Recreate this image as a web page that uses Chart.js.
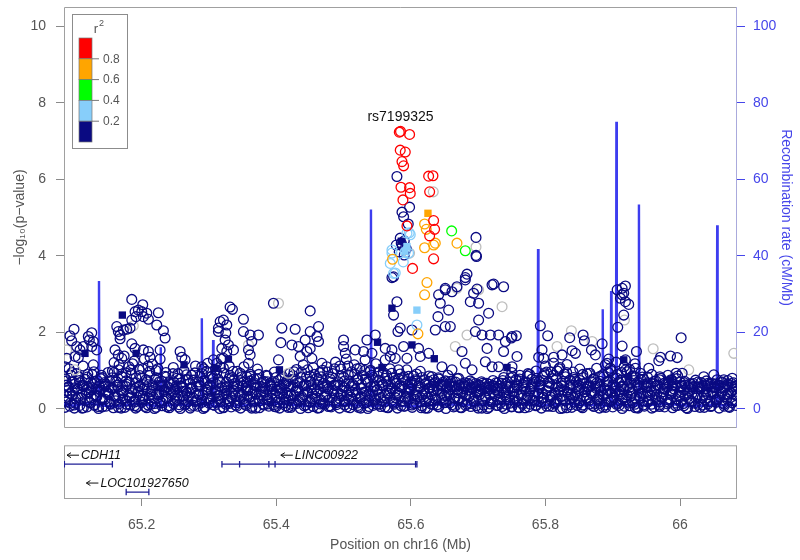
<!DOCTYPE html>
<html><head><meta charset="utf-8">
<script src="https://cdn.jsdelivr.net/npm/chart.js@4.4.1/dist/chart.umd.min.js"></script>
<style>
html,body{margin:0;padding:0;background:#fff;width:800px;height:560px;overflow:hidden}
#wrap{position:relative;width:800px;height:560px}
#c1{position:absolute;left:0;top:0}
#c2{position:absolute;left:0;top:440px}
</style></head><body>
<div id="wrap"><canvas id="c1" width="800" height="440" style="width:800px;height:440px"></canvas><canvas id="c2" width="800" height="120" style="width:800px;height:120px"></canvas></div>
<script>
// ---------------- DATA ----------------
const xRange = [65.0846, 66.0846];
const xTicks = [65.2, 65.4, 65.6, 65.8, 66];
const xTickLabels = ['65.2', '65.4', '65.6', '65.8', '66'];
const pTicks = [0, 2, 4, 6, 8, 10];
const recombTicks = [0, 20, 40, 60, 80, 100];
const leadSnp = ['rs7199325', 65.5846, 7.25];
const legendBreaks = ['0.8', '0.6', '0.4', '0.2'];

// dense band of weakly associated SNPs (position Mb, -log10 p)
const bandLowA = [[65.086,0.04],[65.089,0.33],[65.091,0.57],[65.094,0.15],[65.097,0.46],[65.100,0.02],[65.102,0.27],[65.105,0.53],[65.108,0.09],[65.111,0.38],[65.113,0.61],[65.116,0.21],[65.119,0.05],[65.122,0.44],[65.125,0.29],[65.127,0.56],[65.130,0.11],[65.133,0.35],[65.136,0.01],[65.139,0.49],[65.141,0.24],[65.144,0.59],[65.147,0.07],[65.150,0.41],[65.152,0.18],[65.155,0.54],[65.158,0.03],[65.161,0.31],[65.163,0.62],[65.166,0.13],[65.169,0.47],[65.172,0.26],[65.175,0.04],[65.177,0.58],[65.180,0.36],[65.183,0.10],[65.186,0.51],[65.189,0.22],[65.191,0.02],[65.194,0.43],[65.197,0.60],[65.200,0.17],[65.202,0.34],[65.205,0.06],[65.208,0.55],[65.211,0.28],[65.214,0.12],[65.216,0.48],[65.219,0.01],[65.222,0.39],[65.225,0.61],[65.227,0.20],[65.230,0.08],[65.233,0.45],[65.236,0.30],[65.239,0.57],[65.241,0.03],[65.244,0.37],[65.247,0.14],[65.250,0.52],[65.252,0.25],[65.255,0.05],[65.258,0.60],[65.261,0.33],[65.264,0.10],[65.266,0.46],[65.269,0.19],[65.272,0.02],[65.275,0.55],[65.277,0.28],[65.280,0.41],[65.283,0.07],[65.286,0.59],[65.289,0.23],[65.291,0.36],[65.294,0.04],[65.297,0.50],[65.300,0.15],[65.302,0.62],[65.305,0.31],[65.308,0.09],[65.311,0.44],[65.314,0.26],[65.316,0.01],[65.319,0.56],[65.322,0.38],[65.325,0.12],[65.327,0.48],[65.330,0.21],[65.333,0.05],[65.336,0.58],[65.339,0.34],[65.341,0.16],[65.344,0.43],[65.347,0.02],[65.350,0.61],[65.352,0.27],[65.355,0.09],[65.358,0.51],[65.361,0.32],[65.364,0.06],[65.366,0.45],[65.369,0.20],[65.372,0.57],[65.375,0.03],[65.377,0.37],[65.380,0.13],[65.383,0.53],[65.386,0.25],[65.389,0.07],[65.391,0.60],[65.394,0.40],[65.397,0.11],[65.400,0.47],[65.402,0.18],[65.405,0.02],[65.408,0.55],[65.411,0.30],[65.414,0.08],[65.416,0.42],[65.419,0.22]];
const bandLowB = [[65.422,0.04],[65.425,0.58],[65.427,0.35],[65.430,0.14],[65.433,0.49],[65.436,0.01],[65.439,0.27],[65.441,0.61],[65.444,0.10],[65.447,0.43],[65.450,0.19],[65.452,0.55],[65.455,0.06],[65.458,0.32],[65.461,0.47],[65.464,0.03],[65.466,0.24],[65.469,0.59],[65.472,0.12],[65.475,0.39],[65.477,0.52],[65.480,0.08],[65.483,0.29],[65.486,0.62],[65.489,0.16],[65.491,0.44],[65.494,0.02],[65.497,0.36],[65.500,0.56],[65.502,0.21],[65.505,0.05],[65.508,0.48],[65.511,0.31],[65.514,0.11],[65.516,0.60],[65.519,0.40],[65.522,0.04],[65.525,0.26],[65.527,0.53],[65.530,0.15],[65.533,0.45],[65.536,0.01],[65.539,0.34],[65.541,0.58],[65.544,0.09],[65.547,0.23],[65.550,0.50],[65.552,0.37],[65.555,0.06],[65.558,0.61],[65.561,0.18],[65.564,0.42],[65.566,0.03],[65.569,0.28],[65.572,0.54],[65.575,0.12],[65.577,0.46],[65.580,0.02],[65.583,0.33],[65.586,0.57],[65.589,0.20],[65.591,0.07],[65.594,0.41],[65.597,0.25],[65.600,0.52],[65.602,0.04],[65.605,0.36],[65.608,0.14],[65.611,0.59],[65.614,0.30],[65.616,0.08],[65.619,0.47],[65.622,0.19],[65.625,0.02],[65.627,0.55],[65.630,0.38],[65.633,0.11],[65.636,0.27],[65.639,0.49],[65.641,0.05],[65.644,0.62],[65.647,0.22],[65.650,0.35],[65.652,0.01],[65.655,0.44],[65.658,0.16],[65.661,0.58],[65.664,0.29],[65.666,0.07],[65.669,0.51],[65.672,0.24],[65.675,0.03],[65.677,0.40],[65.680,0.60],[65.683,0.13],[65.686,0.32],[65.689,0.06],[65.691,0.53],[65.694,0.21],[65.697,0.45],[65.700,0.02],[65.702,0.37],[65.705,0.57],[65.708,0.10],[65.711,0.28],[65.714,0.48],[65.716,0.04],[65.719,0.19],[65.722,0.61],[65.725,0.34],[65.727,0.09],[65.730,0.42],[65.733,0.15],[65.736,0.55],[65.739,0.01],[65.741,0.31],[65.744,0.50],[65.747,0.23],[65.750,0.06],[65.752,0.44]];
const bandLowC = [[65.755,0.17],[65.758,0.59],[65.761,0.03],[65.764,0.36],[65.766,0.12],[65.769,0.52],[65.772,0.27],[65.775,0.05],[65.777,0.46],[65.780,0.61],[65.783,0.20],[65.786,0.08],[65.789,0.39],[65.791,0.55],[65.794,0.02],[65.797,0.30],[65.800,0.14],[65.802,0.48],[65.805,0.60],[65.808,0.24],[65.811,0.06],[65.814,0.41],[65.816,0.18],[65.819,0.57],[65.822,0.01],[65.825,0.33],[65.827,0.50],[65.830,0.11],[65.833,0.44],[65.836,0.26],[65.839,0.04],[65.841,0.62],[65.844,0.37],[65.847,0.09],[65.850,0.53],[65.852,0.21],[65.855,0.03],[65.858,0.45],[65.861,0.29],[65.864,0.58],[65.866,0.13],[65.869,0.40],[65.872,0.06],[65.875,0.54],[65.877,0.23],[65.880,0.02],[65.883,0.47],[65.886,0.35],[65.889,0.10],[65.891,0.61],[65.894,0.19],[65.897,0.43],[65.900,0.05],[65.902,0.28],[65.905,0.56],[65.908,0.15],[65.911,0.38],[65.914,0.01],[65.916,0.51],[65.919,0.24],[65.922,0.60],[65.925,0.08],[65.927,0.33],[65.930,0.46],[65.933,0.12],[65.936,0.04],[65.939,0.55],[65.941,0.27],[65.944,0.41],[65.947,0.07],[65.950,0.59],[65.952,0.18],[65.955,0.36],[65.958,0.02],[65.961,0.49],[65.964,0.22],[65.966,0.62],[65.969,0.10],[65.972,0.31],[65.975,0.45],[65.977,0.05],[65.980,0.56],[65.983,0.17],[65.986,0.39],[65.989,0.03],[65.991,0.52],[65.994,0.26],[65.997,0.09],[66.000,0.43],[66.002,0.60],[66.005,0.14],[66.008,0.34],[66.011,0.01],[66.014,0.48],[66.016,0.21],[66.019,0.57],[66.022,0.06],[66.025,0.37],[66.027,0.12],[66.030,0.53],[66.033,0.29],[66.036,0.04],[66.039,0.44],[66.041,0.61],[66.044,0.19],[66.047,0.08],[66.050,0.40],[66.052,0.55],[66.055,0.25],[66.058,0.02],[66.061,0.47],[66.064,0.15],[66.066,0.32],[66.069,0.58],[66.072,0.06],[66.075,0.42],[66.077,0.22],[66.080,0.51],[66.083,0.09]];
const bandLowD = [[65.0875,0.18],[65.0935,0.40],[65.0995,0.10],[65.1055,0.30],[65.1115,0.02],[65.1175,0.49],[65.1235,0.16],[65.1295,0.37],[65.1355,0.06],[65.1415,0.26],[65.1475,0.45],[65.1535,0.12],[65.1595,0.34],[65.1655,0.04],[65.1715,0.42],[65.1775,0.20],[65.1835,0.31],[65.1895,0.08],[65.1955,0.47],[65.2015,0.25],[65.2075,0.03],[65.2135,0.38],[65.2195,0.14],[65.2255,0.44],[65.2315,0.22],[65.2375,0.05],[65.2435,0.48],[65.2495,0.33],[65.2555,0.11],[65.2615,0.27],[65.2675,0.41],[65.2735,0.07],[65.2795,0.19],[65.2855,0.36],[65.2915,0.01],[65.2975,0.29],[65.3035,0.46],[65.3095,0.17],[65.3155,0.35],[65.3215,0.04],[65.3275,0.26],[65.3335,0.43],[65.3395,0.10],[65.3455,0.32],[65.3515,0.18],[65.3575,0.47],[65.3635,0.02],[65.3695,0.38],[65.3755,0.21],[65.3815,0.44],[65.3875,0.13],[65.3935,0.28],[65.3995,0.05],[65.4055,0.40],[65.4115,0.16],[65.4175,0.33],[65.4235,0.09],[65.4295,0.45],[65.4355,0.23],[65.4415,0.36],[65.4475,0.03],[65.4535,0.27],[65.4595,0.42],[65.4655,0.13],[65.4715,0.31],[65.4775,0.06],[65.4835,0.48],[65.4895,0.20],[65.4955,0.39],[65.5015,0.10],[65.5075,0.25],[65.5135,0.44],[65.5195,0.15],[65.5255,0.02],[65.5315,0.35],[65.5375,0.22],[65.5435,0.46],[65.5495,0.12],[65.5555,0.30],[65.5615,0.05],[65.5675,0.41],[65.5735,0.18],[65.5795,0.37],[65.5855,0.08],[65.5915,0.27],[65.5975,0.45],[65.6035,0.14],[65.6095,0.32],[65.6155,0.03],[65.6215,0.40],[65.6275,0.21],[65.6335,0.48],[65.6395,0.11],[65.6455,0.29],[65.6515,0.17],[65.6575,0.38],[65.6635,0.05],[65.6695,0.26],[65.6755,0.44],[65.6815,0.09],[65.6875,0.34],[65.6935,0.19],[65.6995,0.47],[65.7055,0.02],[65.7115,0.30],[65.7175,0.13],[65.7235,0.39],[65.7295,0.24],[65.7355,0.06],[65.7415,0.42],[65.7475,0.15],[65.7535,0.33],[65.7595,0.04],[65.7655,0.28],[65.7715,0.46],[65.7775,0.12],[65.7835,0.35],[65.7895,0.20],[65.7955,0.41],[65.8015,0.07],[65.8075,0.31],[65.8135,0.16],[65.8195,0.44],[65.8255,0.25],[65.8315,0.03],[65.8375,0.37],[65.8435,0.18],[65.8495,0.48],[65.8555,0.10],[65.8615,0.27],[65.8675,0.43],[65.8735,0.14],[65.8795,0.32],[65.8855,0.05],[65.8915,0.39],[65.8975,0.22],[65.9035,0.46],[65.9095,0.09],[65.9155,0.29],[65.9215,0.17],[65.9275,0.40],[65.9335,0.03],[65.9395,0.34],[65.9455,0.21],[65.9515,0.45],[65.9575,0.12],[65.9635,0.30],[65.9695,0.06],[65.9755,0.38],[65.9815,0.24],[65.9875,0.47],[65.9935,0.15],[65.9995,0.33],[66.0055,0.08],[66.0115,0.41],[66.0175,0.19],[66.0235,0.28],[66.0295,0.04],[66.0355,0.36],[66.0415,0.13],[66.0475,0.44],[66.0535,0.23],[66.0595,0.31],[66.0655,0.07],[66.0715,0.39],[66.0775,0.16],[66.0835,0.35]];
const bandLowE = [[65.0855,0.22],[65.0895,0.48],[65.0935,0.07],[65.0975,0.36],[65.1015,0.15],[65.1055,0.52],[65.1095,0.28],[65.1135,0.03],[65.1175,0.41],[65.1215,0.19],[65.1255,0.50],[65.1295,0.09],[65.1335,0.32],[65.1375,0.44],[65.1415,0.05],[65.1455,0.25],[65.1495,0.38],[65.1535,0.14],[65.1575,0.53],[65.1615,0.21],[65.1655,0.35],[65.1695,0.02],[65.1735,0.47],[65.1775,0.12],[65.1815,0.29],[65.1855,0.42],[65.1895,0.18],[65.1935,0.06],[65.1975,0.33],[65.2015,0.51],[65.2055,0.24],[65.2095,0.10],[65.2135,0.45],[65.2175,0.30],[65.2215,0.04],[65.2255,0.37],[65.2295,0.16],[65.2335,0.49],[65.2375,0.27],[65.2415,0.08],[65.2455,0.40],[65.2495,0.20],[65.2535,0.34],[65.2575,0.01],[65.2615,0.46],[65.2655,0.13],[65.2695,0.31],[65.2735,0.52],[65.2775,0.09],[65.2815,0.23],[65.2855,0.39],[65.2895,0.17],[65.2935,0.05],[65.2975,0.43],[65.3015,0.26],[65.3055,0.11],[65.3095,0.50],[65.3135,0.35],[65.3175,0.19],[65.3215,0.03],[65.3255,0.41],[65.3295,0.14],[65.3335,0.29],[65.3375,0.47],[65.3415,0.07],[65.3455,0.22],[65.3495,0.38],[65.3535,0.12],[65.3575,0.33],[65.3615,0.49],[65.3655,0.18],[65.3695,0.02],[65.3735,0.27],[65.3775,0.44],[65.3815,0.10],[65.3855,0.36],[65.3895,0.21],[65.3935,0.51],[65.3975,0.06],[65.4015,0.30],[65.4055,0.15],[65.4095,0.42],[65.4135,0.25],[65.4175,0.04],[65.4215,0.37],[65.4255,0.13],[65.4295,0.48],[65.4335,0.20],[65.4375,0.32],[65.4415,0.08],[65.4455,0.45],[65.4495,0.17],[65.4535,0.39],[65.4575,0.26],[65.4615,0.02],[65.4655,0.52],[65.4695,0.14],[65.4735,0.34],[65.4775,0.23],[65.4815,0.05],[65.4855,0.40],[65.4895,0.11],[65.4935,0.28],[65.4975,0.47],[65.5015,0.19],[65.5055,0.36],[65.5095,0.03],[65.5135,0.24],[65.5175,0.50],[65.5215,0.09],[65.5255,0.31],[65.5295,0.43],[65.5335,0.16],[65.5375,0.06],[65.5415,0.38],[65.5455,0.27],[65.5495,0.49],[65.5535,0.12],[65.5575,0.21],[65.5615,0.35],[65.5655,0.04],[65.5695,0.46],[65.5735,0.15],[65.5775,0.29],[65.5815,0.41],[65.5855,0.20],[65.5895,0.07],[65.5935,0.33],[65.5975,0.52],[65.6015,0.10],[65.6055,0.25],[65.6095,0.44],[65.6135,0.18],[65.6175,0.37],[65.6215,0.02],[65.6255,0.30],[65.6295,0.13],[65.6335,0.48],[65.6375,0.23],[65.6415,0.06],[65.6455,0.40],[65.6495,0.16],[65.6535,0.34],[65.6575,0.51],[65.6615,0.11],[65.6655,0.27],[65.6695,0.42],[65.6735,0.04],[65.6775,0.19],[65.6815,0.36],[65.6855,0.49],[65.6895,0.14],[65.6935,0.28],[65.6975,0.08],[65.7015,0.45],[65.7055,0.22],[65.7095,0.33],[65.7135,0.01],[65.7175,0.39],[65.7215,0.17],[65.7255,0.50],[65.7295,0.09],[65.7335,0.26],[65.7375,0.43],[65.7415,0.12],[65.7455,0.31],[65.7495,0.05],[65.7535,0.47],[65.7575,0.20],[65.7615,0.38],[65.7655,0.15],[65.7695,0.03],[65.7735,0.32],[65.7775,0.52],[65.7815,0.24],[65.7855,0.10],[65.7895,0.41],[65.7935,0.18],[65.7975,0.29],[65.8015,0.46],[65.8055,0.07],[65.8095,0.35],[65.8135,0.13],[65.8175,0.26],[65.8215,0.49],[65.8255,0.02],[65.8295,0.21],[65.8335,0.39],[65.8375,0.11],[65.8415,0.30],[65.8455,0.44],[65.8495,0.16],[65.8535,0.06],[65.8575,0.34],[65.8615,0.51],[65.8655,0.23],[65.8695,0.09],[65.8735,0.42],[65.8775,0.27],[65.8815,0.14],[65.8855,0.37],[65.8895,0.04],[65.8935,0.48],[65.8975,0.19],[65.9015,0.31],[65.9055,0.12],[65.9095,0.45],[65.9135,0.25],[65.9175,0.07],[65.9215,0.36],[65.9255,0.50],[65.9295,0.16],[65.9335,0.28],[65.9375,0.02],[65.9415,0.41],[65.9455,0.10],[65.9495,0.33],[65.9535,0.22],[65.9575,0.47],[65.9615,0.05],[65.9655,0.38],[65.9695,0.18],[65.9735,0.29],[65.9775,0.51],[65.9815,0.13],[65.9855,0.24],[65.9895,0.43],[65.9935,0.08],[65.9975,0.35],[66.0015,0.20],[66.0055,0.49],[66.0095,0.03],[66.0135,0.27],[66.0175,0.40],[66.0215,0.15],[66.0255,0.32],[66.0295,0.52],[66.0335,0.10],[66.0375,0.23],[66.0415,0.37],[66.0455,0.06],[66.0495,0.45],[66.0535,0.17],[66.0575,0.30],[66.0615,0.42],[66.0655,0.12],[66.0695,0.26],[66.0735,0.04],[66.0775,0.48],[66.0815,0.21],[66.0845,0.34]];
const bandMid = [[65.0885,0.62],[65.0950,0.88],[65.1010,0.55],[65.1075,0.74],[65.1140,0.58],[65.1200,0.91],[65.1265,0.66],[65.1330,0.52],[65.1395,0.79],[65.1460,0.60],[65.1525,0.72],[65.1590,0.95],[65.1650,0.57],[65.1715,0.83],[65.1780,0.64],[65.1840,1.02],[65.1905,0.54],[65.1970,0.87],[65.2030,0.63],[65.2095,1.12],[65.2160,0.56],[65.2220,0.81],[65.2285,0.60],[65.2350,0.85],[65.2410,0.53],[65.2475,0.70],[65.2540,0.92],[65.2600,0.58],[65.2665,0.77],[65.2730,0.55],[65.2790,0.94],[65.2855,0.62],[65.2920,1.05],[65.2980,0.57],[65.3045,0.86],[65.3110,0.64],[65.3170,1.10],[65.3235,0.55],[65.3300,0.80],[65.3360,0.98],[65.3425,0.59],[65.3490,0.84],[65.3550,0.53],[65.3615,0.73],[65.3680,0.61],[65.3740,0.90],[65.3805,0.56],[65.3870,0.71],[65.3930,0.58],[65.3995,0.82],[65.4060,0.54],[65.4120,0.66],[65.4185,0.60],[65.4250,0.87],[65.4310,0.55],[65.4375,0.96],[65.4440,0.63],[65.4500,0.85],[65.4565,0.52],[65.4630,0.76],[65.4690,1.01],[65.4755,0.58],[65.4820,0.83],[65.4880,0.61],[65.4945,1.12],[65.5010,0.56],[65.5070,0.89],[65.5135,0.64],[65.5200,1.05],[65.5260,0.54],[65.5325,0.78],[65.5390,0.97],[65.5450,0.59],[65.5515,0.85],[65.5580,0.62],[65.5640,0.88],[65.5705,0.55],[65.5770,0.74],[65.5830,0.60],[65.5895,0.84],[65.5960,0.56],[65.6020,0.69],[65.6085,0.91],[65.6150,0.57],[65.6210,0.66],[65.6275,0.53],[65.6340,0.76],[65.6400,0.59],[65.6465,0.64],[65.6530,0.55],[65.6590,0.72],[65.6655,0.58],[65.6720,0.62],[65.6780,0.53],[65.6845,0.66],[65.6910,0.56],[65.6970,0.61],[65.7035,0.52],[65.7100,0.64],[65.7160,0.57],[65.7225,0.60],[65.7290,0.54],[65.7350,0.67],[65.7415,0.59],[65.7480,0.81],[65.7540,0.55],[65.7605,0.73],[65.7670,0.61],[65.7730,0.86],[65.7795,0.57],[65.7860,0.70],[65.7920,0.63],[65.7985,0.92],[65.8050,0.56],[65.8110,0.79],[65.8175,0.99],[65.8240,0.60],[65.8300,0.84],[65.8365,0.55],[65.8430,0.77],[65.8490,0.62],[65.8555,0.90],[65.8620,0.57],[65.8680,0.71],[65.8745,0.59],[65.8810,0.85],[65.8870,0.54],[65.8935,0.95],[65.9000,0.62],[65.9060,0.80],[65.9125,0.58],[65.9190,1.02],[65.9250,0.56],[65.9315,0.74],[65.9380,0.61],[65.9440,0.83],[65.9505,0.55],[65.9570,0.67],[65.9630,0.59],[65.9695,0.76],[65.9760,0.53],[65.9820,0.70],[65.9885,0.60],[65.9950,0.79],[66.0010,0.56],[66.0075,0.62],[66.0140,0.54],[66.0200,0.66],[66.0265,0.57],[66.0330,0.60],[66.0390,0.53],[66.0455,0.64],[66.0520,0.58],[66.0580,0.62],[66.0645,0.55],[66.0710,0.65],[66.0770,0.57],[66.0835,0.61]];
const bandMidB = [[65.0865,0.72],[65.0915,0.58],[65.0965,0.95],[65.1015,0.66],[65.1065,0.84],[65.1115,0.61],[65.1165,0.77],[65.1215,0.55],[65.1265,0.90],[65.1315,0.68],[65.1365,0.59],[65.1415,0.82],[65.1465,0.64],[65.1515,0.57],[65.1565,0.99],[65.1615,0.73],[65.1665,1.15],[65.1715,0.62],[65.1765,0.94],[65.1815,0.70],[65.1865,1.18],[65.1915,0.81],[65.1965,0.60],[65.2015,1.05],[65.2065,0.76],[65.2115,0.88],[65.2165,0.63],[65.2215,1.00],[65.2265,0.71],[65.2315,0.58],[65.2365,0.83],[65.2415,0.66],[65.2465,0.92],[65.2515,0.60],[65.2565,0.78],[65.2615,0.56],[65.2665,0.89],[65.2715,0.67],[65.2765,0.75],[65.2815,0.59],[65.2865,0.86],[65.2915,0.73],[65.2965,0.98],[65.3015,0.62],[65.3065,0.80],[65.3115,0.94],[65.3165,0.69],[65.3215,1.07],[65.3265,0.58],[65.3315,0.87],[65.3365,0.74],[65.3415,0.61],[65.3465,0.93],[65.3515,0.70],[65.3565,0.57],[65.3615,0.85],[65.3665,0.64],[65.3715,0.78],[65.3765,0.59],[65.3815,0.72],[65.3865,0.86],[65.3915,0.61],[65.3965,0.68],[65.4015,0.56],[65.4065,0.79],[65.4115,0.63],[65.4165,0.74],[65.4215,0.58],[65.4265,0.97],[65.4315,0.68],[65.4365,0.82],[65.4415,0.60],[65.4465,1.02],[65.4515,0.71],[65.4565,0.90],[65.4615,0.63],[65.4665,0.84],[65.4715,0.57],[65.4765,0.96],[65.4815,0.70],[65.4865,1.05],[65.4915,0.62],[65.4965,0.86],[65.5015,0.73],[65.5065,1.12],[65.5115,0.60],[65.5165,0.91],[65.5215,0.77],[65.5265,0.64],[65.5315,1.00],[65.5365,0.72],[65.5415,0.88],[65.5465,0.58],[65.5515,0.96],[65.5565,0.69],[65.5615,0.80],[65.5665,0.61],[65.5715,0.93],[65.5765,0.66],[65.5815,0.79],[65.5865,0.57],[65.5915,0.71],[65.5965,0.85],[65.6015,0.63],[65.6065,0.76],[65.6115,0.59],[65.6165,0.82],[65.6215,0.64],[65.6265,0.72],[65.6315,0.56],[65.6365,0.69],[65.6415,0.78],[65.6465,0.60],[65.6515,0.73],[65.6565,0.65],[65.6615,0.57],[65.6665,0.70],[65.6715,0.61],[65.6765,0.66],[65.6815,0.58],[65.6865,0.63],[65.6915,0.69],[65.6965,0.55],[65.7015,0.62],[65.7065,0.67],[65.7115,0.57],[65.7165,0.64],[65.7215,0.56],[65.7265,0.68],[65.7315,0.60],[65.7365,0.74],[65.7415,0.66],[65.7465,0.58],[65.7515,0.83],[65.7565,0.63],[65.7615,0.78],[65.7665,0.57],[65.7715,0.70],[65.7765,0.90],[65.7815,0.65],[65.7865,0.80],[65.7915,0.59],[65.7965,0.74],[65.8015,0.96],[65.8065,0.67],[65.8115,0.88],[65.8165,0.61],[65.8215,1.08],[65.8265,0.72],[65.8315,0.95],[65.8365,0.63],[65.8415,0.82],[65.8465,0.58],[65.8515,0.74],[65.8565,0.66],[65.8615,0.92],[65.8665,0.60],[65.8715,0.79],[65.8765,0.68],[65.8815,0.57],[65.8865,0.84],[65.8915,0.71],[65.8965,1.06],[65.9015,0.62],[65.9065,0.90],[65.9115,0.75],[65.9165,0.59],[65.9215,0.97],[65.9265,0.68],[65.9315,0.86],[65.9365,0.61],[65.9415,0.77],[65.9465,0.64],[65.9515,0.83],[65.9565,0.58],[65.9615,0.72],[65.9665,0.62],[65.9715,0.80],[65.9765,0.66],[65.9815,0.57],[65.9865,0.76],[65.9915,0.63],[65.9965,0.86],[66.0015,0.60],[66.0065,0.68],[66.0115,0.57],[66.0165,0.64],[66.0215,0.59],[66.0265,0.70],[66.0315,0.56],[66.0365,0.63],[66.0415,0.67],[66.0465,0.58],[66.0515,0.65],[66.0565,0.60],[66.0615,0.69],[66.0665,0.56],[66.0715,0.62],[66.0765,0.66],[66.0815,0.59]];
const bandHigh = [[65.087,0.78],[65.092,1.05],[65.097,0.71],[65.103,0.92],[65.108,0.68],[65.113,1.12],[65.119,0.83],[65.124,0.70],[65.129,0.97],[65.134,0.74],[65.140,0.88],[65.145,0.69],[65.150,0.95],[65.156,0.81],[65.159,1.21],[65.163,0.70],[65.166,1.02],[65.170,0.86],[65.174,1.38],[65.177,0.73],[65.181,1.10],[65.185,0.92],[65.189,1.25],[65.192,0.68],[65.196,1.03],[65.200,0.80],[65.204,1.30],[65.208,0.71],[65.212,0.98],[65.216,1.17],[65.220,0.77],[65.224,1.05],[65.230,0.72],[65.236,0.95],[65.241,0.69],[65.247,1.08],[65.252,0.80],[65.258,0.67],[65.263,1.00],[65.269,0.76],[65.274,0.88],[65.280,1.12],[65.285,0.70],[65.290,0.92],[65.294,0.72],[65.298,1.19],[65.302,0.83],[65.306,0.68],[65.310,1.02],[65.314,0.77],[65.318,1.31],[65.322,0.94],[65.326,0.70],[65.330,1.12],[65.334,0.82],[65.338,0.66],[65.342,0.98],[65.347,0.74],[65.352,1.10],[65.357,0.69],[65.362,0.90],[65.367,0.78],[65.372,1.04],[65.379,0.70],[65.385,0.88],[65.391,0.67],[65.397,0.96],[65.403,0.74],[65.409,0.85],[65.415,0.68],[65.420,0.93],[65.425,0.77],[65.430,1.03],[65.435,0.69],[65.440,1.15],[65.445,0.84],[65.450,0.72],[65.455,1.08],[65.460,0.80],[65.465,0.95],[65.470,0.67],[65.475,1.10],[65.480,0.78],[65.484,0.92],[65.488,1.22],[65.492,0.71],[65.496,1.04],[65.500,0.83],[65.504,1.30],[65.508,0.68],[65.512,0.97],[65.516,1.15],[65.520,0.76],[65.524,1.06],[65.528,0.87],[65.532,1.28],[65.536,0.70],[65.540,1.01],[65.544,0.82],[65.548,1.18],[65.552,0.74],[65.559,0.95],[65.564,0.72],[65.569,1.05],[65.574,0.80],[65.579,0.67],[65.584,0.91],[65.589,0.76],[65.594,1.02],[65.599,0.69],[65.604,0.86],[65.609,0.73],[65.614,0.98],[65.620,0.74],[65.627,0.86],[65.634,0.67],[65.641,0.81],[65.648,0.70],[65.655,0.88],[65.662,0.72],[65.669,0.79],[65.680,0.68],[65.688,0.73],[65.696,0.66],[65.705,0.71],[65.713,0.67],[65.722,0.74],[65.730,0.69],[65.738,0.82],[65.744,0.70],[65.750,0.95],[65.756,0.76],[65.762,0.88],[65.768,0.68],[65.774,0.92],[65.780,0.78],[65.786,0.99],[65.791,0.72],[65.796,0.85],[65.800,1.12],[65.804,0.70],[65.808,0.97],[65.812,1.20],[65.816,0.78],[65.820,1.05],[65.824,0.68],[65.828,0.91],[65.832,1.16],[65.836,0.75],[65.841,0.96],[65.846,0.71],[65.851,1.04],[65.856,0.82],[65.861,0.68],[65.866,0.93],[65.871,0.77],[65.876,1.06],[65.881,0.72],[65.885,0.89],[65.889,1.15],[65.893,0.72],[65.897,1.00],[65.901,0.81],[65.905,1.22],[65.909,0.69],[65.913,0.95],[65.917,1.10],[65.921,0.76],[65.925,1.03],[65.929,0.86],[65.933,1.18],[65.937,0.70],[65.941,0.93],[65.946,0.77],[65.952,0.68],[65.958,0.90],[65.964,0.73],[65.970,0.84],[65.976,0.67],[65.982,0.88],[65.988,0.75],[65.994,0.93],[66.000,0.70],[66.007,0.72],[66.015,0.66],[66.023,0.75],[66.031,0.69],[66.039,0.73],[66.047,0.67],[66.055,0.76],[66.063,0.70],[66.071,0.74],[66.079,0.68]];

// scattered SNPs by LD class
const navyPts = [[65.5793,6.07],[65.5981,5.27],[65.5868,5.14],[65.5892,5.02],[65.5961,4.83],[65.5842,4.46],[65.5902,4.39],[65.5872,4.26],[65.5932,4.18],[65.5827,4.10],[65.5902,4.02],[65.5857,4.33],[65.5783,4.28],[65.6968,4.48],[65.6968,4.01],[65.6975,3.98],[65.6834,3.52],[65.6809,3.43],[65.5743,3.45],[65.5719,3.43],[65.6511,3.15],[65.6685,3.19],[65.6809,3.37],[65.6983,3.13],[65.7230,3.26],[65.7378,3.19],[65.5793,2.80],[65.5743,2.45],[65.5808,2.02],[65.5842,2.11],[65.6016,2.06],[65.6412,2.98],[65.6437,2.76],[65.6511,3.11],[65.6611,3.06],[65.6561,2.58],[65.6403,2.41],[65.6511,2.15],[65.6586,2.15],[65.6363,2.06],[65.6932,3.02],[65.7007,2.76],[65.6883,2.80],[65.7206,3.24],[65.7155,2.50],[65.7007,2.32],[65.6958,2.02],[65.7057,1.93],[65.7181,1.93],[65.7304,1.93],[65.7132,1.58],[65.7107,1.23],[65.6760,1.50],[65.6709,0.80],[65.7404,1.76],[65.7503,1.89],[65.7378,1.50],[65.7304,1.10],[65.7503,1.10],[65.4504,2.56],[65.4281,2.08],[65.4504,2.02],[65.4628,2.15],[65.4604,1.89],[65.4430,1.80],[65.4628,1.76],[65.4504,1.58],[65.4455,1.50],[65.4330,1.63],[65.4529,1.32],[65.4678,1.19],[65.4232,1.67],[65.4355,1.37],[65.5000,1.80],[65.5000,1.63],[65.5025,1.45],[65.5347,1.80],[65.5471,1.93],[65.5297,1.50],[65.5422,1.45],[65.5173,1.54],[65.5619,1.58],[65.5719,1.54],[65.5694,1.37],[65.5619,1.28],[65.5768,1.32],[65.5892,1.63],[65.5942,1.32],[65.5817,1.02],[65.6114,1.58],[65.6140,1.37],[65.6264,1.45],[65.6462,1.10],[65.6314,0.84],[65.6611,1.02],[65.6809,1.19],[65.6909,1.02],[65.7206,1.10],[65.9065,3.11],[65.9139,3.15],[65.9188,3.21],[65.9163,3.02],[65.9114,2.89],[65.9188,2.80],[65.9237,2.73],[65.9139,2.98],[65.9163,2.45],[65.9074,2.13],[65.7924,2.17],[65.8033,1.91],[65.7567,1.91],[65.7493,1.85],[65.8360,1.86],[65.8559,1.93],[65.8578,1.78],[65.7949,1.54],[65.7899,1.35],[65.7973,1.32],[65.8395,1.52],[65.8445,1.45],[65.8247,1.41],[65.8122,1.35],[65.8842,1.70],[65.8683,1.54],[65.8742,1.41],[65.8940,1.30],[65.8916,1.19],[65.9139,1.64],[65.9188,1.28],[65.9352,1.50],[66.0016,1.86],[65.9709,1.35],[65.9684,1.26],[65.9858,1.38],[65.9957,1.34],[65.9337,1.06],[65.9535,1.06],[66.0031,0.93],[66.0352,0.84],[66.0501,0.89],[66.0650,0.76],[66.0775,0.80],[65.7577,1.37],[65.0995,2.08],[65.0935,1.91],[65.0960,1.78],[65.1035,1.63],[65.1010,1.37],[65.1059,1.34],[65.0886,1.32],[65.0861,1.10],[65.1207,1.89],[65.1222,1.80],[65.1258,1.99],[65.1282,1.76],[65.1258,1.63],[65.1332,1.54],[65.1282,1.15],[65.1133,1.63],[65.1084,1.54],[65.1853,2.86],[65.2016,2.72],[65.1951,2.58],[65.2001,2.54],[65.2076,2.50],[65.2100,2.34],[65.2025,2.41],[65.1902,2.54],[65.1917,2.41],[65.1853,2.32],[65.2248,2.51],[65.2224,2.19],[65.2323,2.04],[65.2348,1.85],[65.1630,2.15],[65.1653,2.02],[65.1679,1.93],[65.1679,1.83],[65.1778,2.08],[65.1827,2.11],[65.1728,2.06],[65.1604,1.54],[65.1653,1.41],[65.1704,1.32],[65.1853,1.70],[65.1902,1.58],[65.2025,1.54],[65.2100,1.50],[65.2125,1.35],[65.2274,1.54],[65.2274,1.30],[65.2571,1.50],[65.2596,1.35],[65.2645,1.28],[65.2894,1.10],[65.3066,1.28],[65.3117,1.19],[65.3140,2.11],[65.3166,2.28],[65.3215,2.32],[65.3265,2.19],[65.3250,1.98],[65.3314,2.66],[65.3349,2.60],[65.3140,2.02],[65.3240,1.80],[65.3289,1.67],[65.3191,1.58],[65.3265,1.50],[65.3364,1.54],[65.3215,1.32],[65.3512,2.34],[65.3512,2.02],[65.3612,1.93],[65.3735,1.93],[65.3637,1.76],[65.3587,1.54],[65.3612,1.41],[65.3587,1.19],[65.3563,0.84],[65.3958,2.76],[65.4083,2.11],[65.4068,1.73],[65.4033,1.28]];
const navySquares = [[65.5719,2.63],[65.6016,1.67],[65.5505,1.74],[65.5570,1.08],[65.6348,1.31],[65.6546,0.65],[65.7429,1.08],[65.9163,1.28],[65.9237,0.84],[65.9858,0.76],[65.1158,1.45],[65.1713,2.45],[65.1917,1.45],[65.2630,1.15],[65.3091,1.06],[65.3289,1.30],[65.4047,1.02],[65.5857,4.38]];
const grayPts = [[65.6333,5.67],[65.6968,4.23],[65.6685,3.15],[65.6834,1.93],[65.6660,1.63],[65.7007,3.11],[65.7355,2.67],[65.9173,2.32],[65.8385,2.04],[65.8693,1.76],[65.8172,1.63],[65.9600,1.57],[66.0129,1.02],[66.0798,1.45],[65.1010,1.02],[65.0886,1.54],[65.1876,2.17],[65.3587,1.67],[65.4033,2.76],[65.4181,0.93],[65.5981,4.07]];
const lightBluePts = [[65.5976,4.60],[65.5719,4.07],[65.5694,3.80],[65.5743,3.54],[65.5887,3.84],[65.5917,4.10],[65.5768,3.55],[65.6090,2.19],[65.5966,4.07],[65.5942,4.59],[65.5991,4.55],[65.5719,4.15]];
const lightBlueSquares = [[65.5942,4.24],[65.5912,4.12],[65.6090,2.58]];
const greenPts = [[65.6606,4.65],[65.6809,4.13]];
const orangePts = [[65.6204,4.83],[65.6229,4.69],[65.6363,4.33],[65.6338,4.28],[65.6204,4.21],[65.6685,4.33],[65.5728,3.91],[65.6239,3.30],[65.6204,2.98],[65.6105,1.96]];
const orangeSquares = [[65.6254,5.11]];
const redPts = [[65.5828,7.23],[65.5846,7.25],[65.5981,7.17],[65.5842,6.76],[65.5917,6.71],[65.5868,6.46],[65.5892,6.35],[65.5853,5.79],[65.5981,5.78],[65.5991,5.63],[65.5882,5.46],[65.5942,4.78],[65.6264,6.08],[65.6328,6.09],[65.6279,5.67],[65.6338,4.92],[65.6353,4.69],[65.6279,4.52],[65.6338,3.92],[65.6025,3.67]];

// recombination rate (cM/Mb)
const recomb = [[65.0846,1.2],[65.100,0.8],[65.120,1.5],[65.1360,1.0],[65.1366,33.4],[65.1372,0.9],[65.160,0.6],[65.190,1.3],[65.2278,0.7],[65.2284,16.1],[65.2290,0.8],[65.260,1.1],[65.2888,0.9],[65.2894,23.7],[65.2900,1.2],[65.3056,0.8],[65.3062,18.0],[65.3068,0.6],[65.350,0.9],[65.400,1.4],[65.450,0.7],[65.500,1.0],[65.5401,0.8],[65.5407,52.1],[65.5413,0.7],[65.570,1.1],[65.5985,0.5],[65.5991,8.5],[65.5997,0.6],[65.650,1.2],[65.700,0.9],[65.750,1.4],[65.7884,1.0],[65.7890,41.8],[65.7896,0.8],[65.830,1.3],[65.860,0.9],[65.8845,1.1],[65.8851,26.0],[65.8857,0.7],[65.8970,1.0],[65.8976,30.8],[65.8982,0.9],[65.9048,0.8],[65.9054,75.0],[65.9060,1.2],[65.920,0.9],[65.9383,1.0],[65.9389,53.4],[65.9395,0.8],[65.980,1.3],[66.020,0.7],[66.0546,1.1],[66.0552,48.0],[66.0558,0.9],[66.0846,1.0]];

// genes
const geneNames = ['CDH11', 'LOC101927650', 'LINC00922'];
const geneStart = [64.9777, 65.1767, 65.3191];
const geneEnd = [65.1568, 65.2110, 65.6092];
const geneRow = [1, 2, 1];
const geneExons = [[65.0852, 65.1565], [65.1770, 65.2107], [65.3193, 65.3455, 65.3890, 65.3982, 65.6070, 65.6090]];

// ---------------- STYLE ----------------
const FONT = "'Liberation Sans', Arial, Helvetica, sans-serif";
Chart.defaults.font.family = FONT;
const C = {navy:'#0a0a82', lb:'#87CEFA', green:'#00FF00', orange:'#FFA500', red:'#FF0000', gray:'#BEBEBE', recomb:'rgba(45,45,238,0.92)', axis:'#555555', tick:'#8a8a8a', rb:'#4646ea', gene:'#1f1f96'};
const toXY = a => a.map(p => ({x: p[0], y: p[1]}));
const R = 4.9, BW = 1.3, SQ = 5.2;
function circles(data, color) {
  return {type:'scatter', data: toXY(data), pointStyle:'circle', pointRadius:R, pointBorderWidth:BW,
    pointBorderColor:color, pointBackgroundColor:'rgba(0,0,0,0)', yAxisID:'y'};
}
function squares(data, color, border) {
  return {type:'scatter', data: toXY(data), pointStyle:'rect', pointRadius:SQ, pointBorderWidth: border ? 1.3 : 0,
    pointBorderColor: border || color, pointBackgroundColor:color, yAxisID:'y'};
}
const legendColors = [C.red, C.orange, C.green, C.lb, C.navy];
const noPad = s => { s.paddingTop = 0; s.paddingBottom = 0; };

const mainPlugin = {
  id: 'mainDeco',
  beforeDatasetsDraw(chart) {
    const {ctx, chartArea: a} = chart;
    ctx.save();
    ctx.strokeStyle = '#a0a0a0'; ctx.lineWidth = 1;
    ctx.beginPath();
    ctx.moveTo(a.right, a.top + 0.5); ctx.lineTo(a.left + 0.5, a.top + 0.5);
    ctx.lineTo(a.left + 0.5, a.bottom - 0.5); ctx.lineTo(a.right, a.bottom - 0.5);
    ctx.stroke();
    ctx.strokeStyle = '#aaaadc';
    ctx.beginPath(); ctx.moveTo(a.right - 0.5, a.top); ctx.lineTo(a.right - 0.5, a.bottom); ctx.stroke();
    ctx.restore();
  },
  afterDatasetsDraw(chart) {
    const {ctx, chartArea: a, scales} = chart;
    ctx.save();
    const lx = scales.x.getPixelForValue(leadSnp[1]);
    const ly = scales.y.getPixelForValue(leadSnp[2]);
    ctx.fillStyle = '#111'; ctx.font = '14px ' + FONT; ctx.textAlign = 'center'; ctx.textBaseline = 'middle';
    ctx.fillText(leadSnp[0], lx, ly - 14);
    const bx = a.left + 8, by = a.top + 7, bw = 55, bh = 134;
    ctx.fillStyle = '#fff'; ctx.fillRect(bx, by, bw, bh);
    ctx.strokeStyle = '#8c8c8c'; ctx.lineWidth = 1; ctx.strokeRect(bx + 0.5, by + 0.5, bw, bh);
    ctx.fillStyle = '#555'; ctx.font = '13px ' + FONT; ctx.textAlign = 'center';
    ctx.fillText('r', bx + 24, by + 15);
    ctx.font = '9px ' + FONT; ctx.fillText('2', bx + 29.5, by + 10);
    const cx = bx + 7, cw = 13, cy0 = by + 24, ch = 20.8;
    legendColors.forEach((col, i) => {
      ctx.fillStyle = col; ctx.fillRect(cx, cy0 + i * ch, cw, ch);
      ctx.strokeStyle = '#777'; ctx.lineWidth = 0.7; ctx.strokeRect(cx, cy0 + i * ch, cw, ch);
    });
    ctx.strokeStyle = '#777'; ctx.lineWidth = 1;
    ctx.fillStyle = '#555'; ctx.font = '12px ' + FONT; ctx.textAlign = 'left';
    legendBreaks.forEach((t, i) => {
      const yy = cy0 + (i + 1) * ch;
      ctx.beginPath(); ctx.moveTo(cx + cw, yy); ctx.lineTo(cx + cw + 7, yy); ctx.stroke();
      ctx.fillText(t, cx + cw + 11, yy + 0.5);
    });
    ctx.restore();
  }
};

new Chart(document.getElementById('c1'), {
  type: 'scatter',
  data: { datasets: [
    circles(redPts, C.red),
    squares(orangeSquares, C.orange),
    circles(orangePts, C.orange),
    circles(greenPts, C.green),
    squares(lightBlueSquares, C.lb),
    circles(lightBluePts, C.lb),
    squares(navySquares, C.navy),
    circles(navyPts, C.navy),
    circles(grayPts, C.gray),
    circles(bandHigh.concat(bandMid, bandMidB), C.navy),
    circles(bandLowA.concat(bandLowB, bandLowC, bandLowD, bandLowE), C.navy),
    {type:'line', data: toXY(recomb), yAxisID:'yR', borderColor:C.recomb, borderWidth:2.4, pointRadius:0, tension:0, fill:false}
  ]},
  options: {
    responsive:false, animation:false, events:[],
    layout:{padding:{top:7, bottom:12, left:0, right:0}},
    plugins:{legend:{display:false}, tooltip:{enabled:false}},
    scales:{
      x:{type:'linear', min:xRange[0], max:xRange[1], display:false},
      y:{position:'left', min:-0.5, max:10.5,
        afterBuildTicks: s => { s.ticks = pTicks.map(v => ({value:v})); },
        ticks:{color:C.axis, font:{size:14}, padding:10, callback: v => String(v)},
        grid:{drawOnChartArea:false, tickLength:8, color:C.tick, tickWidth:1},
        border:{display:false},
        title:{display:true, text:'−log₁₀(p−value)', color:C.axis, font:{size:14}, padding:{top:11.6, bottom:0}},
        afterFit: s => { s.width = 64; noPad(s); }},
      yR:{position:'right', min:-5, max:105,
        afterBuildTicks: s => { s.ticks = recombTicks.map(v => ({value:v})); },
        ticks:{color:C.rb, font:{size:14}, padding:8, callback: v => String(v)},
        grid:{drawOnChartArea:false, tickLength:8, color:C.rb, tickWidth:1},
        border:{display:false},
        title:{display:true, text:'Recombination rate (cM/Mb)', color:C.rb, font:{size:14}, padding:{top:5.6, bottom:0}},
        afterFit: s => { s.width = 63; noPad(s); }}
    }
  },
  plugins:[mainPlugin]
});

// ---------------- gene panel ----------------
const genePlugin = {
  id: 'geneDeco',
  beforeDatasetsDraw(chart) {
    const {ctx, chartArea: a} = chart;
    ctx.save(); ctx.strokeStyle = '#a0a0a0'; ctx.lineWidth = 1;
    ctx.strokeRect(a.left + 0.5, a.top + 0.5, a.right - a.left - 1, a.bottom - a.top - 1);
    ctx.restore();
  },
  afterDatasetsDraw(chart) {
    const {ctx, chartArea: a, scales: {x, y}} = chart;
    ctx.save();
    ctx.font = 'italic 12.5px ' + FONT; ctx.fillStyle = '#111'; ctx.strokeStyle = '#111'; ctx.lineWidth = 1;
    ctx.textBaseline = 'middle'; ctx.textAlign = 'left';
    geneNames.forEach((name, i) => {
      const xs = Math.max(x.getPixelForValue(geneStart[i]), a.left);
      const xe = Math.min(x.getPixelForValue(geneEnd[i]), a.right);
      const tw = ctx.measureText(name).width;
      const total = 14 + tw;
      let l = (xs + xe) / 2 - total / 2;
      if (l < a.left + 3) l = a.left + 3;
      const yy = y.getPixelForValue(geneRow[i]) - 9;
      ctx.beginPath();
      ctx.moveTo(l + 12, yy); ctx.lineTo(l, yy);
      ctx.moveTo(l + 4, yy - 2.5); ctx.lineTo(l, yy); ctx.lineTo(l + 4, yy + 2.5);
      ctx.stroke();
      ctx.fillText(name, l + 14, yy + 0.5);
    });
    ctx.restore();
  }
};

const geneDatasets = geneNames.map((n, i) => ({
  type:'line', data:[{x:geneStart[i], y:geneRow[i]}, {x:geneEnd[i], y:geneRow[i]}],
  borderColor:C.gene, borderWidth:1.3, pointRadius:0, fill:false
}));
const exonPts = [];
geneExons.forEach((ex, i) => ex.forEach(e => exonPts.push({x:e, y:geneRow[i]})));
geneDatasets.push({type:'scatter', data: exonPts, pointStyle:'line', rotation:90, pointRadius:3.2,
  pointBorderColor:C.gene, pointBorderWidth:1.3, pointBackgroundColor:C.gene});

new Chart(document.getElementById('c2'), {
  type: 'scatter',
  data: { datasets: geneDatasets },
  options: {
    responsive:false, animation:false, events:[],
    layout:{padding:{top:5, left:64, right:63, bottom:0}},
    plugins:{legend:{display:false}, tooltip:{enabled:false}},
    scales:{
      x:{type:'linear', min:xRange[0], max:xRange[1], position:'bottom',
        afterBuildTicks: s => { s.ticks = xTicks.map(v => ({value:v})); },
        ticks:{color:C.axis, font:{size:14}, padding:11, maxRotation:0, autoSkip:false, callback: (v, i) => xTickLabels[i]},
        grid:{drawOnChartArea:false, tickLength:7, color:C.tick},
        border:{display:false},
        title:{display:true, text:'Position on chr16 (Mb)', color:C.axis, font:{size:14}, padding:{top:0, bottom:6.6}},
        afterFit: s => { s.height = 61; }},
      y:{display:false, min:0.322, max:2.249, reverse:true}
    }
  },
  plugins:[genePlugin]
});
</script>
</body></html>
